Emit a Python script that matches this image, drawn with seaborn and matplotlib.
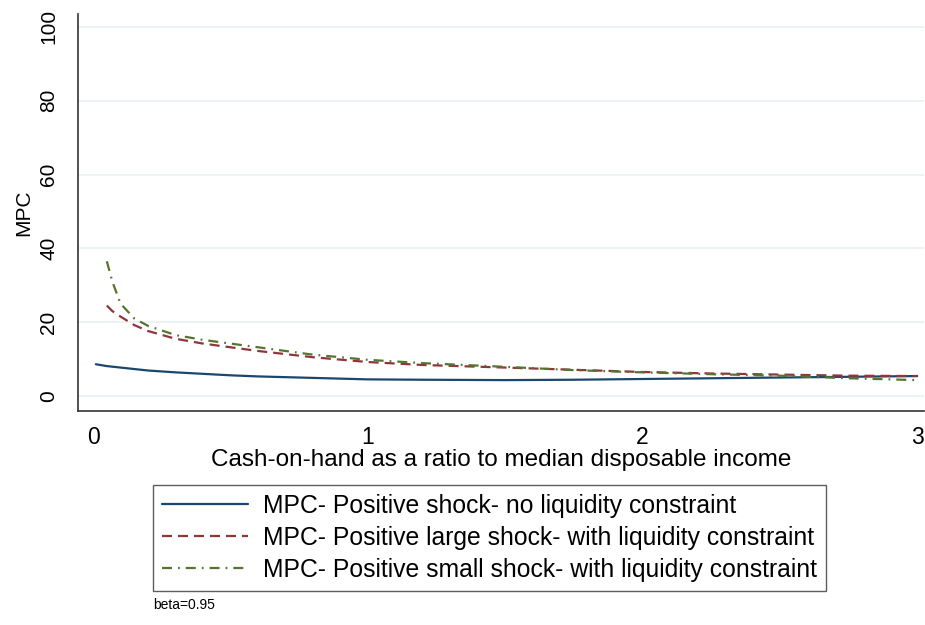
import matplotlib
matplotlib.use("Agg")
import matplotlib.pyplot as plt
import seaborn as sns
import pandas as pd

x_noliq = [0.01, 0.05, 0.1, 0.15, 0.2, 0.3, 0.4, 0.5, 0.6, 0.8, 1.0, 1.2, 1.5, 1.75, 2.0, 2.25, 2.5, 2.75, 3.0]
mpc_noliq = [8.6, 8.1, 7.7, 7.3, 6.9, 6.4, 6.0, 5.6, 5.3, 4.9, 4.5, 4.4, 4.3, 4.4, 4.6, 4.8, 5.0, 5.2, 5.4]

x_liq = [0.05, 0.07, 0.1, 0.15, 0.2, 0.3, 0.4, 0.5, 0.6, 0.8, 1.0, 1.2, 1.5, 1.75, 2.0, 2.25, 2.5, 2.75, 3.0]
mpc_large = [24.5, 23.0, 21.5, 19.2, 17.6, 15.5, 14.2, 13.2, 12.2, 10.5, 9.2, 8.4, 7.7, 7.1, 6.5, 6.1, 5.8, 5.5, 5.4]
mpc_small = [36.5, 31.0, 25.0, 21.0, 19.0, 16.5, 15.2, 14.2, 13.2, 11.2, 9.8, 8.9, 7.9, 7.0, 6.4, 5.9, 5.5, 4.8, 4.3]

labels = ["MPC- Positive shock- no liquidity constraint",
          "MPC- Positive large shock- with liquidity constraint",
          "MPC- Positive small shock- with liquidity constraint"]
y_ticks = [0, 20, 40, 60, 80, 100]
x_ticks = [0, 1, 2, 3]

sns.set_style("white")
plt.rcParams['font.family'] = ['Liberation Sans', 'DejaVu Sans']
plt.rcParams['text.color'] = 'black'
plt.rcParams['axes.labelcolor'] = 'black'
plt.rcParams['xtick.color'] = 'black'
plt.rcParams['ytick.color'] = 'black'

fig = plt.figure(figsize=(9.25, 6.25), dpi=100)
ax = fig.add_axes([78/925, 1-411/625, 1-78/925-0.001, (411-14)/625])

for y in y_ticks:
    ax.axhline(y, color="#eaf2f3", lw=1.3, zorder=0)

sns.lineplot(x=x_noliq, y=mpc_noliq, ax=ax, color="#1a476f", lw=1.6, label=labels[0])
sns.lineplot(x=x_liq, y=mpc_large, ax=ax, color="#90353b", lw=1.6, label=labels[1], linestyle=(0, (4.5, 2.7)))
sns.lineplot(x=x_liq, y=mpc_small, ax=ax, color="#55752f", lw=1.6, label=labels[2], linestyle=(0, (4.5, 2.7, 0.8, 2.7)))

ax.set_xlim(-0.055, 3.025)
ax.set_ylim(-4.07, 103.5)
ax.set_xticks(x_ticks)
ax.set_yticks(y_ticks)
ax.set_yticklabels([str(v) for v in y_ticks], rotation=90, va="center")
ax.tick_params(axis="x", direction="out", length=5.5, width=1.2, colors="black", labelsize=16.5, pad=5)
ax.tick_params(axis="y", direction="out", length=7.2, width=1.2, colors="black", labelsize=15, pad=7)
for s in ["top", "right"]:
    ax.spines[s].set_visible(False)
for s in ["left", "bottom"]:
    ax.spines[s].set_color("#333333")
    ax.spines[s].set_linewidth(1.2)
ax.set_xlabel("Cash-on-hand as a ratio to median disposable income", fontsize=17.5, labelpad=0)
ax.set_ylabel("MPC", fontsize=15, labelpad=4)

ax.get_legend().remove()
handles, labs = ax.get_legend_handles_labels()
leg = fig.legend(handles, labs, loc="upper left", bbox_to_anchor=(153/925, 1-485/625), fontsize=17.8,
                 frameon=True, fancybox=False, edgecolor="#333333", handlelength=3.5, borderpad=0.35,
                 labelspacing=0.33, handletextpad=0.6, borderaxespad=0)
leg.get_frame().set_linewidth(1.0)

fig.text(153/925, 1-605/625, "beta=0.95", fontsize=10, va="center", ha="left")

fig.savefig("out.png", dpi=100, facecolor="white")
